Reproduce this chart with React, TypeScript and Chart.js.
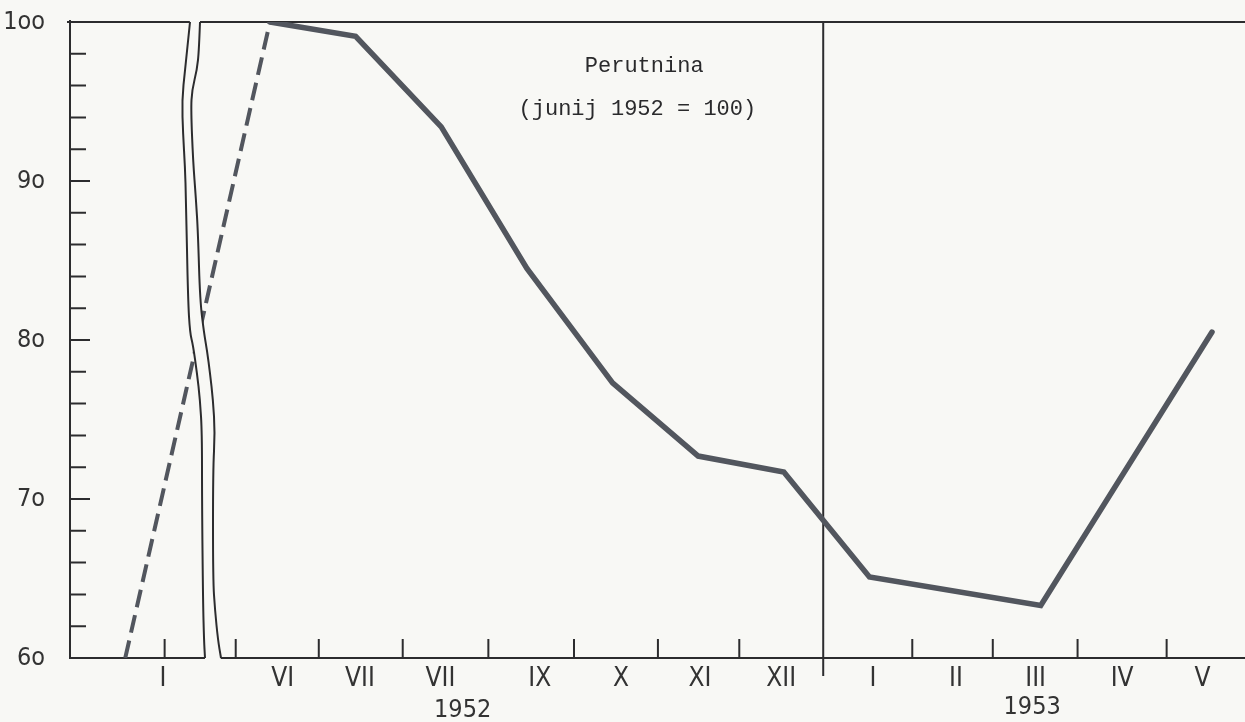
import React, { useEffect, useRef } from 'react';
import { Chart, registerables } from 'chart.js';

Chart.register(...registerables);

// ---- data (x = month index: 6 = VI 1952 ... 17 = V 1953) ----
const MONTH_X = [6, 7, 8, 9, 10, 11, 12, 13, 14, 15, 16, 17];
const POULTRY_INDEX: (number | null)[] = [100, 99.1, 93.4, 84.5, 77.3, 72.7, 71.7, 65.1, null, 63.3, null, 80.5];

// dashed connection coming from the broken-off part of the axis
const TREND_X = [4.31, 6];
const TREND_Y = [60, 100];

// x axis labels (roman months) and their positions
const X_LABEL_POS = [4.75, 6.15, 7.05, 7.99, 9.15, 10.1, 11.02, 11.97, 13.04, 14.01, 14.94, 15.95, 16.89];
const X_LABELS = ['I', 'VI', 'VII', 'VII', 'IX', 'X', 'XI', 'XII', 'I', 'II', 'III', 'IV', 'V'];
// month boundary tick marks
const X_TICK_POS = [4.77, 5.6, 6.57, 7.55, 8.55, 9.55, 10.53, 11.48, 13.5, 14.44, 15.43, 16.47];
const YEAR_SPLIT = 12.46;
const YEAR_LABELS = ['1952', '1953'];
const YEAR_POS = [8.25, 14.9];
const X_MIN = 3.665;
const X_MAX = 17.385;
const BREAK_AT = 5.183;

// y axis
const Y_MIN = 60;
const Y_MAX = 100;
const Y_MAJOR = [60, 70, 80, 90, 100];
const Y_LABELS = ['6o', '7o', '8o', '9o', '1oo'];
const Y_MINOR_STEP = 2;

// note inside the plot
const NOTE_LINES = ['Perutnina', '(junij 1952 = 100)'];
const NOTE_X = [10.37, 10.29];
const NOTE_Y = [97.2, 94.5];

// axis break shape: [fraction of plot height, horizontal offset]
const BREAK_LEFT: [number, number][] = [
  [0, -10], [0.075, -15], [0.123, -18], [0.175, -17], [0.228, -15], [0.28, -14], [0.437, -12],
  [0.489, -10], [0.508, -7], [0.552, -3], [0.594, 0], [0.646, 2], [0.752, 2], [0.909, 3], [0.972, 4], [1, 5],
];
const BREAK_RIGHT: [number, number][] = [
  [0, 0], [0.044, -1], [0.075, -3], [0.107, -8], [0.138, -9], [0.217, -7], [0.28, -4], [0.332, -2],
  [0.437, 0], [0.489, 4], [0.516, 7], [0.552, 10], [0.594, 13], [0.646, 15], [0.704, 13], [0.877, 13],
  [0.925, 15], [0.972, 18], [1, 21],
];

const PAPER = '#f8f8f5';
const INK = '#2c2c2e';
const LINE = '#52565e';
const LABEL_FONT = '"Liberation Sans Narrow", "DejaVu Sans Condensed", "Roboto", sans-serif';

function smoothPath(ctx: CanvasRenderingContext2D, pts: [number, number][], move = true) {
  if (move) ctx.moveTo(pts[0][0], pts[0][1]);
  else ctx.lineTo(pts[0][0], pts[0][1]);
  for (let i = 1; i < pts.length - 1; i++) {
    const mx = (pts[i][0] + pts[i + 1][0]) / 2;
    const my = (pts[i][1] + pts[i + 1][1]) / 2;
    ctx.quadraticCurveTo(pts[i][0], pts[i][1], mx, my);
  }
  const last = pts[pts.length - 1];
  ctx.lineTo(last[0], last[1]);
}

const paperPlugin = {
  id: 'paper',
  beforeDraw(chart: any) {
    const ctx = chart.ctx;
    ctx.save();
    ctx.fillStyle = PAPER;
    ctx.fillRect(0, 0, chart.width, chart.height);
    ctx.restore();
  },
  beforeDatasetsDraw(chart: any) {
    const { ctx, chartArea } = chart;
    const { left, right, top, bottom } = chartArea;
    const xs = chart.scales.x;
    const ys = chart.scales.y;
    ctx.save();
    ctx.strokeStyle = INK;
    ctx.lineWidth = 2;
    ctx.lineCap = 'butt';
    ctx.beginPath();
    ctx.moveTo(left, top - 2);
    ctx.lineTo(left, bottom + 1);
    ctx.moveTo(left - 3, top);
    ctx.lineTo(right, top);
    ctx.moveTo(left - 1, bottom);
    ctx.lineTo(right, bottom);
    const sx = xs.getPixelForValue(YEAR_SPLIT);
    ctx.moveTo(sx, top);
    ctx.lineTo(sx, bottom + 18);
    for (let v = Y_MIN + Y_MINOR_STEP; v < Y_MAX; v += Y_MINOR_STEP) {
      const y = ys.getPixelForValue(v);
      const len = v % 10 === 0 ? 20 : 16;
      ctx.moveTo(left, y);
      ctx.lineTo(left + len, y);
    }
    X_TICK_POS.forEach((p) => {
      const x = xs.getPixelForValue(p);
      ctx.moveTo(x, bottom);
      ctx.lineTo(x, bottom - 19);
    });
    ctx.stroke();
    ctx.restore();
  },
  afterDatasetsDraw(chart: any) {
    const { ctx, chartArea } = chart;
    const { top, bottom } = chartArea;
    const xs = chart.scales.x;
    const ys = chart.scales.y;
    const ax = xs.getPixelForValue(BREAK_AT);
    const h = bottom - top;
    const lp: [number, number][] = BREAK_LEFT.map(([t, d]) => [ax + d, top + t * h]);
    const rp: [number, number][] = BREAK_RIGHT.map(([t, d]) => [ax + d, top + t * h]);
    ctx.save();
    // white band of the axis break
    ctx.fillStyle = PAPER;
    ctx.beginPath();
    const lpx: [number, number][] = [[lp[0][0], top - 3], ...lp, [lp[lp.length - 1][0], bottom + 3]];
    const rpx: [number, number][] = [[rp[0][0], top - 3], ...rp, [rp[rp.length - 1][0], bottom + 3]];
    smoothPath(ctx, lpx);
    smoothPath(ctx, [...rpx].reverse(), false);
    ctx.closePath();
    ctx.fill();
    ctx.strokeStyle = INK;
    ctx.lineWidth = 2;
    ctx.lineJoin = 'round';
    ctx.beginPath();
    smoothPath(ctx, lp);
    ctx.stroke();
    ctx.beginPath();
    smoothPath(ctx, rp);
    ctx.stroke();

    // note
    ctx.fillStyle = '#2a2a2c';
    ctx.font = '22px "Liberation Mono", "DejaVu Sans Mono", monospace';
    ctx.textAlign = 'center';
    ctx.textBaseline = 'middle';
    NOTE_LINES.forEach((t, i) => {
      ctx.fillText(t, xs.getPixelForValue(NOTE_X[i]), ys.getPixelForValue(NOTE_Y[i]));
    });

    // years
    ctx.font = `25px ${LABEL_FONT}`;
    ctx.fillStyle = '#333';
    YEAR_LABELS.forEach((t, i) => {
      ctx.fillText(t, xs.getPixelForValue(YEAR_POS[i]), bottom + 52 - i * 3);
    });
    ctx.restore();
  },
};

export default function App() {
  const ref = useRef<HTMLCanvasElement | null>(null);

  useEffect(() => {
    document.body.style.margin = '0';
    document.body.style.background = PAPER;
    const canvas = ref.current;
    if (!canvas) return;
    const chart = new Chart(canvas, {
      type: 'line',
      data: {
        datasets: [
          {
            data: MONTH_X.map((x, i) => ({ x, y: POULTRY_INDEX[i] })) as any,
            borderColor: LINE,
            borderWidth: 5.5,
            pointRadius: 0,
            tension: 0,
            spanGaps: true,
            borderJoinStyle: 'miter',
            borderCapStyle: 'round',
          },
          {
            data: TREND_X.map((x, i) => ({ x, y: TREND_Y[i] })),
            borderColor: LINE,
            borderWidth: 4,
            borderDash: [18, 8],
            pointRadius: 0,
            tension: 0,
          },
        ],
      },
      options: {
        animation: false,
        responsive: false,
        devicePixelRatio: 1,
        layout: { padding: { top: 22, right: 0, bottom: 0, left: 0 } },
        plugins: { legend: { display: false }, tooltip: { enabled: false } },
        scales: {
          x: {
            type: 'linear',
            min: X_MIN,
            max: X_MAX,
            grid: { display: false, drawTicks: true, tickLength: 6 },
            border: { display: false },
            afterBuildTicks: (scale: any) => {
              scale.ticks = X_LABEL_POS.map((v) => ({ value: v }));
            },
            afterFit: (scale: any) => {
              scale.height = 64;
              scale.paddingLeft = 0;
              scale.paddingRight = 0;
            },
            ticks: {
              autoSkip: false,
              maxRotation: 0,
              padding: 0,
              color: '#333',
              font: { family: LABEL_FONT, size: 26 },
              callback: (_v: any, i: number) => X_LABELS[i],
            },
          },
          y: {
            type: 'linear',
            min: Y_MIN,
            max: Y_MAX,
            grid: { display: false, drawTicks: true, tickLength: 25 },
            border: { display: false },
            afterBuildTicks: (scale: any) => {
              scale.ticks = Y_MAJOR.map((v) => ({ value: v }));
            },
            afterFit: (scale: any) => {
              scale.width = 70;
              scale.paddingTop = 0;
              scale.paddingBottom = 0;
            },
            ticks: {
              padding: 0,
              color: '#333',
              font: { family: LABEL_FONT, size: 25 },
              callback: (_v: any, i: number) => Y_LABELS[i],
            },
          },
        },
      },
      plugins: [paperPlugin],
    });
    return () => chart.destroy();
  }, []);

  return (
    <div style={{ position: 'absolute', left: 0, top: 0, width: 1245, height: 722 }}>
      <canvas ref={ref} width={1245} height={722} style={{ display: 'block' }} />
    </div>
  );
}
